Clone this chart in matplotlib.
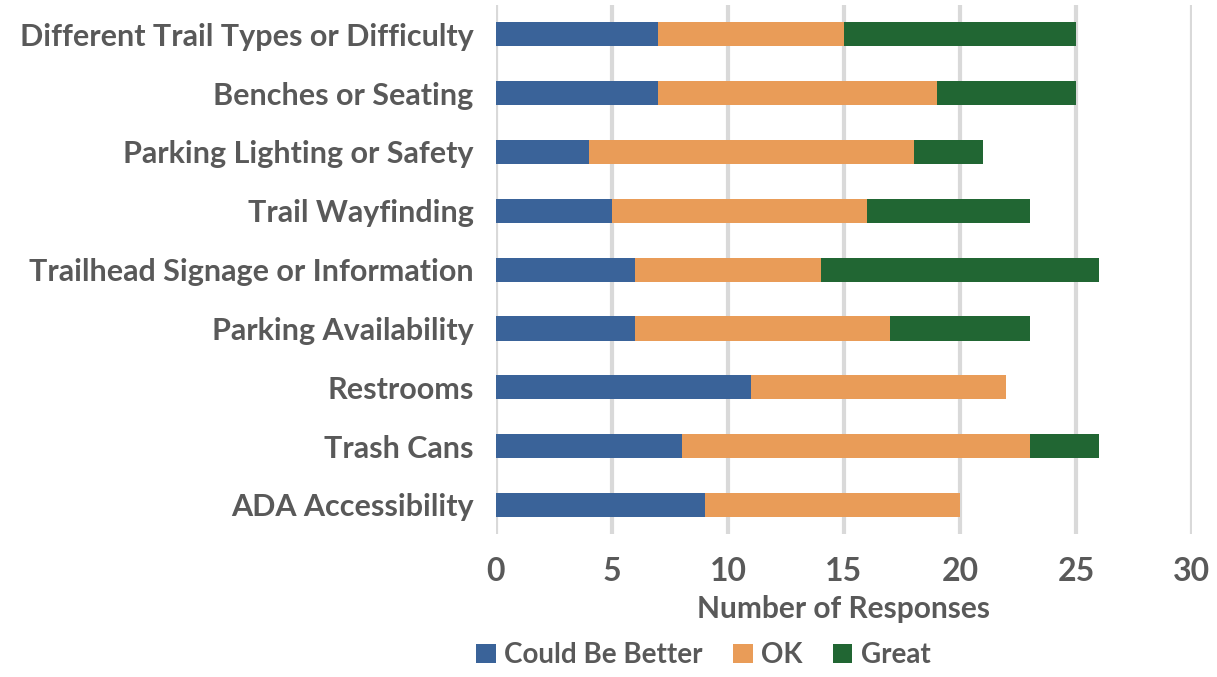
import matplotlib
matplotlib.use("Agg")
import matplotlib.pyplot as plt
import numpy as np

categories = ["Different Trail Types or Difficulty", "Benches or Seating",
              "Parking Lighting or Safety", "Trail Wayfinding",
              "Trailhead Signage or Information", "Parking Availability",
              "Restrooms", "Trash Cans", "ADA Accessibility"]
could_be_better = [7, 7, 4, 5, 6, 6, 11, 8, 9]
ok = [8, 12, 14, 11, 8, 11, 11, 15, 11]
great = [10, 6, 3, 7, 12, 6, 0, 3, 0]

series_names = ["Could Be Better", "OK", "Great"]
colors = ["#3A6399", "#E99C58", "#216633"]
text_col = "#595959"

plt.rcParams['font.family'] = ['Lato', 'DejaVu Sans']
plt.rcParams['font.weight'] = 'bold'

fig = plt.figure(figsize=(12.17, 6.77), dpi=100)
ax = fig.add_axes([0.4075, 0.2106, 0.5719, 0.7824])

y = np.arange(len(categories))
left = np.zeros(len(categories))
for vals, name, c in zip([could_be_better, ok, great], series_names, colors):
    ax.barh(y, vals, left=left, height=0.41, color=c, label=name, zorder=3)
    left = left + np.array(vals)

ax.set_ylim(len(categories) - 0.5, -0.5)
ax.set_xlim(0, 30)
ax.set_xticks(range(0, 31, 5))
ax.set_yticks(y)
ax.set_yticklabels(categories)
ax.grid(axis="x", color="#D9D9D9", linewidth=3, zorder=0)
for s in ax.spines.values():
    s.set_visible(False)
ax.tick_params(axis="both", length=0, colors=text_col)
ax.tick_params(axis="y", pad=16, labelsize=22)
ax.tick_params(axis="x", pad=16.5, labelsize=23)
for t in ax.get_xticklabels() + ax.get_yticklabels():
    t.set_fontweight("bold")

ax.set_xlabel("Number of Responses", color=text_col, fontsize=21.5,
              fontweight="bold", labelpad=6)

fig.legend(loc="center", bbox_to_anchor=(0.578, 0.032), ncol=3, frameon=False,
           fontsize=20, handlelength=0.7, handleheight=0.7, handletextpad=0.3,
           columnspacing=1.1, labelcolor=text_col)

fig.savefig("out.png", dpi=100)
